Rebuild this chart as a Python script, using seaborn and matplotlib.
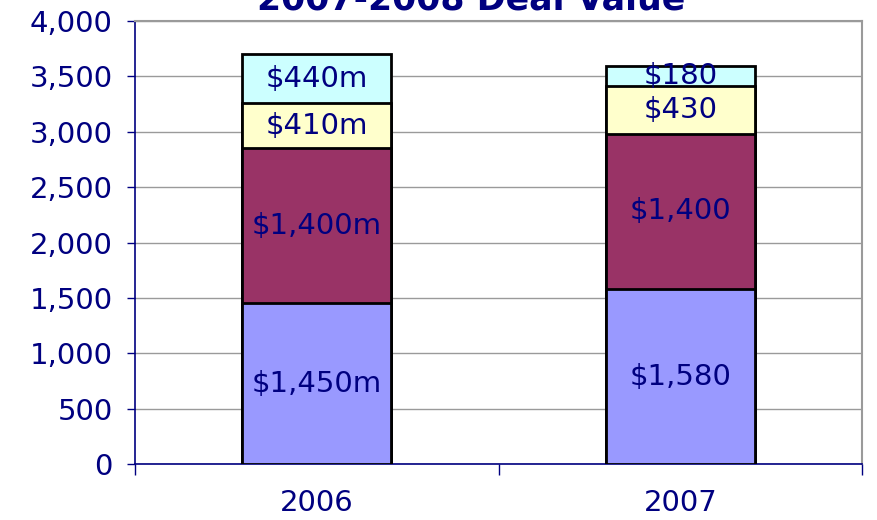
import numpy as np
import pandas as pd
import matplotlib
matplotlib.use("Agg")
import matplotlib.pyplot as plt
import seaborn as sns

# data
years = ["2006", "2007"]
seg1 = [1450, 1580]
seg2 = [1400, 1400]
seg3 = [410, 430]
seg4 = [440, 180]
labels1 = ["$1,450m", "$1,580"]
labels2 = ["$1,400m", "$1,400"]
labels3 = ["$410m", "$430"]
labels4 = ["$440m", "$180"]
colors = ["#9999FF", "#993366", "#FFFFCC", "#CCFFFF"]
navy = "#000080"

sns.set_style("white")
plt.rcParams["font.family"] = ["DejaVu Sans"]

segments = [seg1, seg2, seg3, seg4]
seg_labels = [labels1, labels2, labels3, labels4]
tops = np.cumsum(np.array(segments), axis=0)
bottoms = tops - np.array(segments)

fig = plt.figure(figsize=(8.78, 5.2), dpi=100)
ax = fig.add_axes([0.1538, 0.1077, 0.828, 0.8519])

# draw cumulative totals from tallest to shortest so each layer shows
for i in range(len(segments) - 1, -1, -1):
    df = pd.DataFrame({"year": years, "value": tops[i]})
    sns.barplot(data=df, x="year", y="value", color=colors[i], saturation=1,
                width=0.41, edgecolor="black", linewidth=2, ax=ax, zorder=3)

for i in range(len(segments)):
    for j in range(len(years)):
        ax.text(j, (bottoms[i][j] + tops[i][j]) / 2, seg_labels[i][j],
                ha="center", va="center", fontsize=21, color=navy, zorder=5)

ax.set_xlim(-0.5, 1.5)
ax.set_ylim(0, 4000)
ax.set_yticks(np.arange(0, 4001, 500))
ax.set_yticklabels([f"{v:,}" for v in range(0, 4001, 500)])
ax.yaxis.grid(True, color="#9a9a9a", linewidth=1, zorder=0)
ax.set_axisbelow(True)
ax.set_xlabel("")
ax.set_ylabel("")

ax.set_xticks([0, 1])
ax.set_xticklabels(years)
ax.set_xticks([-0.5, 0.5, 1.5], minor=True)
ax.tick_params(axis="x", which="major", bottom=True, length=0, pad=18, labelsize=21,
               labelcolor=navy)
ax.tick_params(axis="x", which="minor", bottom=True, length=8, width=1, color=navy,
               direction="out")
ax.tick_params(axis="y", length=6, width=1, color=navy, direction="out", labelsize=21,
               labelcolor=navy, pad=10, left=True)

for side in ["left", "bottom"]:
    ax.spines[side].set_color(navy)
    ax.spines[side].set_linewidth(1.2)
for side in ["top", "right"]:
    ax.spines[side].set_visible(True)
    ax.spines[side].set_color("#9a9a9a")
    ax.spines[side].set_linewidth(1.5)

fig.text(0.537, 1.0, "2007-2008 Deal Value", ha="center", va="center",
         fontsize=25, fontweight="bold", color=navy)

fig.savefig("out.png", dpi=100)
